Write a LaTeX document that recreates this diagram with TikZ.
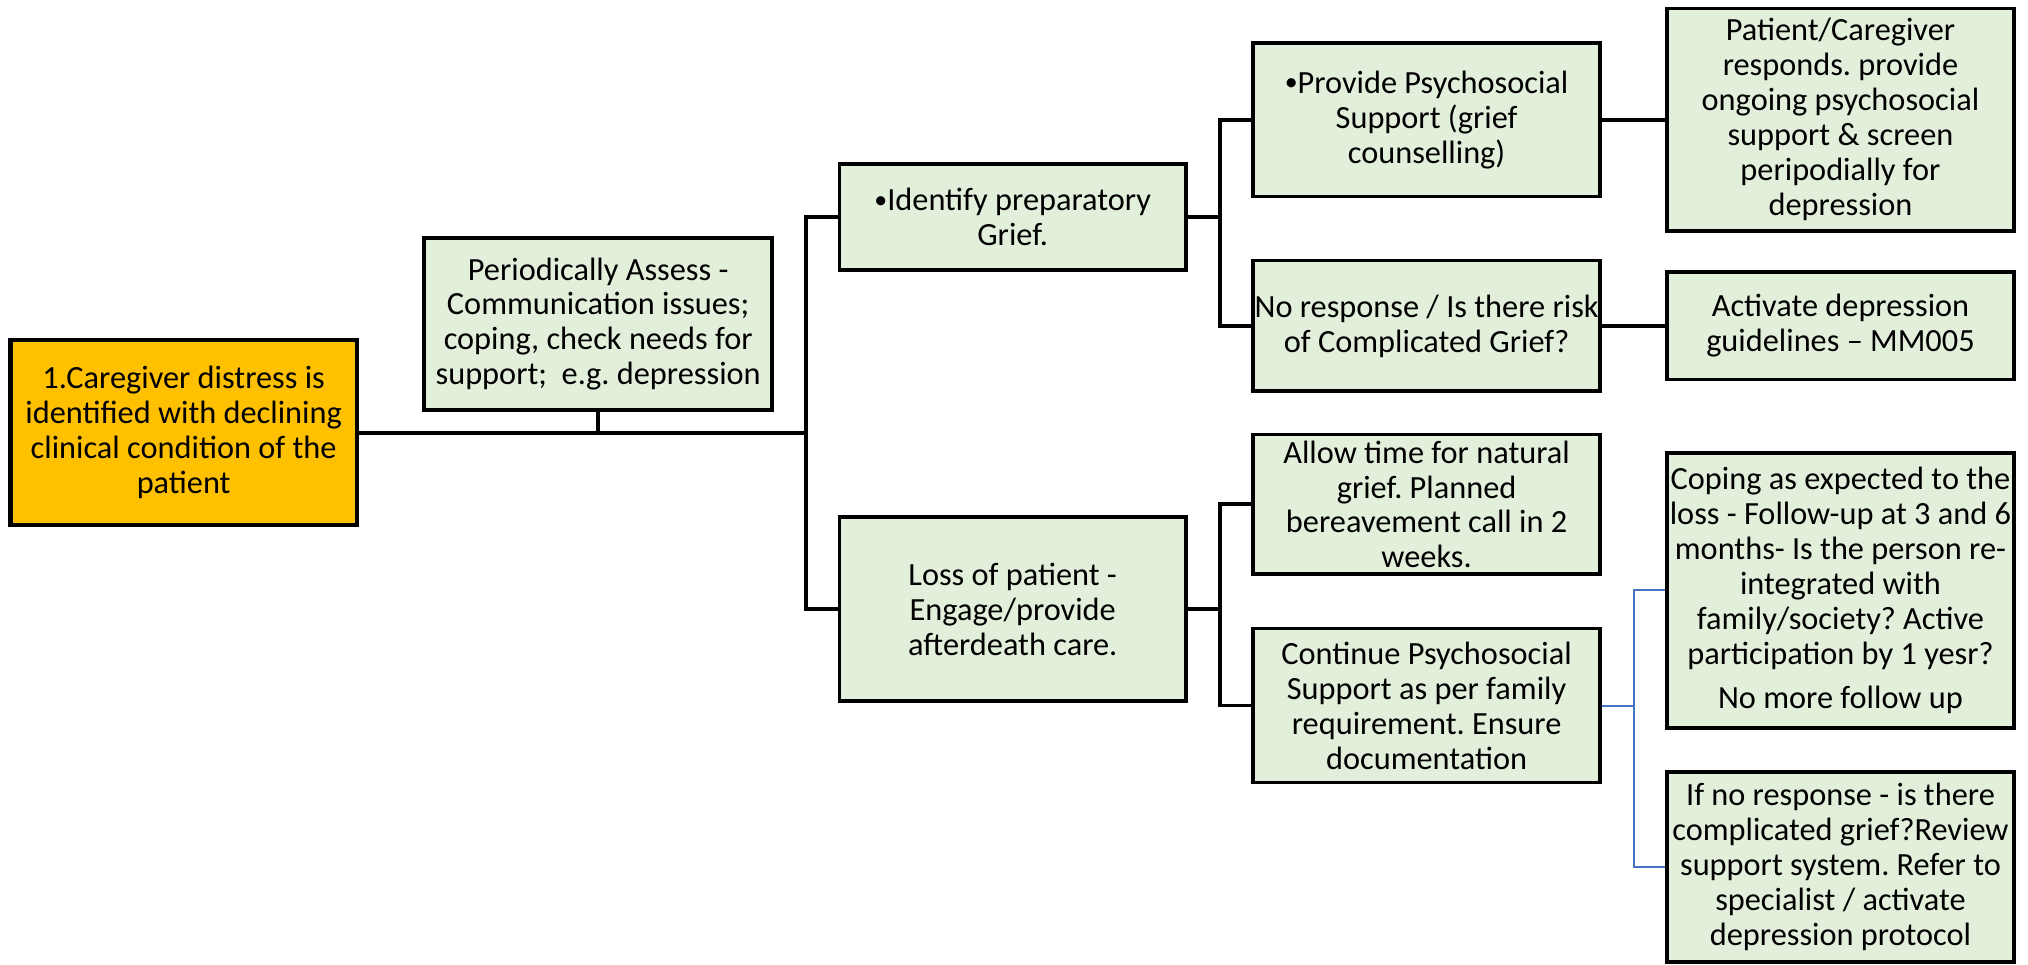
\documentclass[tikz,border=0pt]{standalone}
\usepackage{fontspec}
\setmainfont{Carlito}
\frenchspacing
\definecolor{boxgreen}{HTML}{E2EFDA}
\definecolor{boxorange}{HTML}{FFC000}
\definecolor{linkblue}{HTML}{4472C4}
\newcommand{\smallbul}{\raisebox{2pt}{\fontsize{20}{20}\selectfont •}}
\begin{document}
\begin{tikzpicture}[x=1pt,y=-1pt,
  box/.style={draw=black, line width=2.9pt, fill=boxgreen, minimum width=268pt,
    align=center, inner sep=0pt, font=\fontsize{25}{27}\selectfont},
  conn/.style={draw=black, line width=3pt, line join=miter},
  bconn/.style={draw=linkblue, line width=1.6pt, line join=miter}]
\useasboundingbox (0,0) rectangle (1568,746);
% nodes
\node[box, fill=boxorange, line width=3.4pt, minimum height=143pt] (care) at (142,334.5)
  {1.Caregiver distress is\\identified with declining\\clinical condition of the\\patient};
\node[box, minimum width=269pt, minimum height=133pt] (assess) at (462.5,250.5)
  {Periodically Assess -\\Communication issues;\\coping, check needs for\\support;\ \ e.g. depression};
\node[box, minimum height=82pt] (ident) at (783,168)
  {\smallbul Identify preparatory\\Grief.};
\node[box, minimum height=142pt] (loss) at (783,471)
  {Loss of patient -\\Engage/provide\\afterdeath care.};
\node[box, minimum height=119pt] (prov) at (1103,92.5)
  {\smallbul Provide Psychosocial\\Support (grief\\counselling)};
\node[box, minimum height=101pt] (noresp) at (1103,252)
  {No response / Is there risk\\of Complicated Grief?};
\node[box, minimum height=108pt] (allow) at (1103,390)
  {Allow time for natural\\grief. Planned\\bereavement call in 2\\weeks.};
\node[box, minimum height=119pt] (cont) at (1103,545.5)
  {Continue Psychosocial\\Support as per family\\requirement. Ensure\\documentation};
\node[box, minimum height=172pt] (pat) at (1423,92.5)
  {Patient/Caregiver\\responds. provide\\ongoing psychosocial\\support \& screen\\peripodially for\\depression};
\node[box, minimum height=83pt] (act) at (1423,252)
  {Activate depression\\guidelines – MM005};
\node[box, minimum height=213pt] (coping) at (1423,456.5)
  {Coping as expected to the\\loss - Follow-up at 3 and 6\\months- Is the person re-\\integrated with\\family/society? Active\\participation by 1 yesr?\\[7pt]No more follow up};
\node[box, minimum height=147pt] (ifno) at (1423,670.5)
  {If no response - is there\\complicated grief?Review\\support system. Refer to\\specialist / activate\\depression protocol};
% junctions
\coordinate (j1) at (623,334.5);
\coordinate (j2) at (943,168);
\coordinate (j3) at (943,471);
\coordinate (j4) at (1263,545.5);
% connectors
\draw[conn] (care.east) -- (j1);
\draw[conn] (assess.south) -- (assess.south |- care.east);
\draw[conn] (ident.west) -| (j1) |- (loss.west);
\draw[conn] (ident.east) -- (j2);
\draw[conn] (prov.west) -| (j2) |- (noresp.west);
\draw[conn] (loss.east) -- (j3);
\draw[conn] (allow.west) -| (j3) |- (cont.west);
\draw[conn] (prov.east) -- (pat.west);
\draw[conn] (noresp.east) -- (act.west);
\draw[bconn] (cont.east) -- (j4);
\draw[bconn] (coping.west) -| (j4) |- (ifno.west);
\end{tikzpicture}
\end{document}
